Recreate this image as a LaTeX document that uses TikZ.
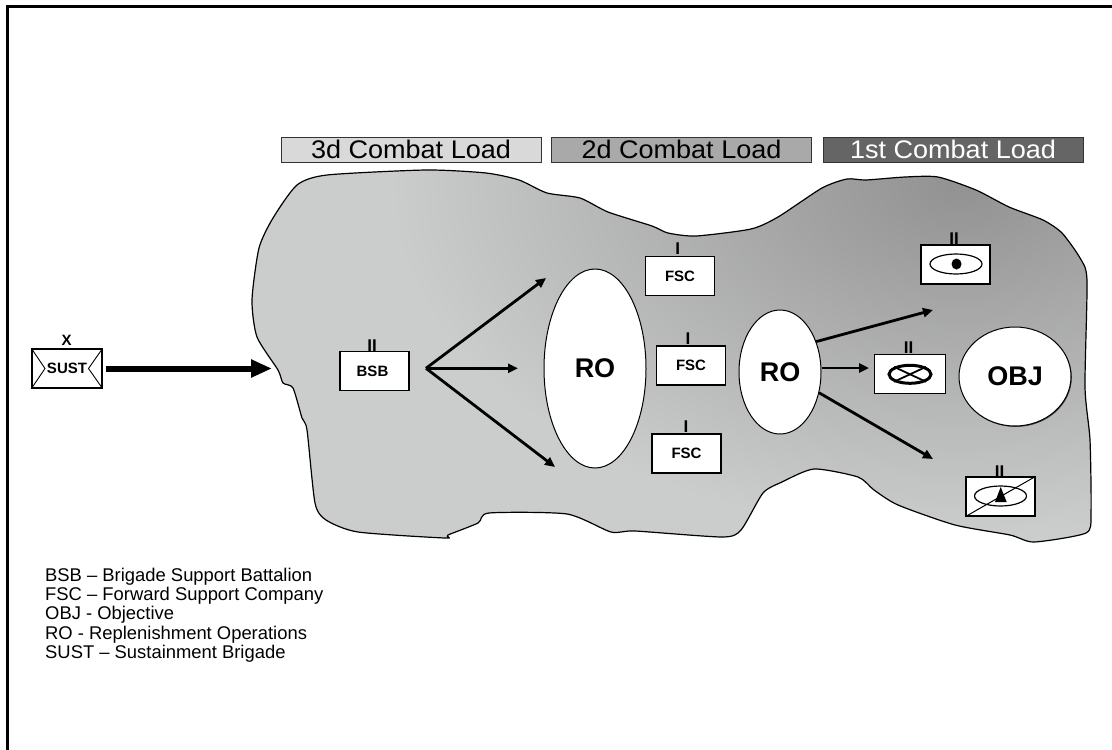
\documentclass[tikz,border=0pt]{standalone}
\usepackage{fontspec}
\usepackage{graphicx}
\setmainfont{Liberation Sans}
\usetikzlibrary{arrows.meta,shapes.geometric}
\newcommand{\fs}[1]{\fontsize{#1}{#1}\selectfont}
\definecolor{blobdark}{HTML}{929292}
\definecolor{bloblight}{HTML}{CBCDCC}
\definecolor{barA}{HTML}{D9D9D9}
\definecolor{barB}{HTML}{A9A9A9}
\definecolor{barC}{HTML}{656565}
\tikzset{
  unitbox/.style={draw=black,line width=1.2pt,fill=white,minimum width=69pt,minimum height=39pt,inner sep=0pt,font=\fs{15}\bfseries},
  echelon/.style={inner sep=0pt,font=\fs{17}\bfseries},
  objective/.style={ellipse,draw=black,line width=1pt,fill=white,inner sep=0pt,font=\fs{27}\bfseries},
  symb/.style={ellipse,draw=black,line width=1.2pt,minimum width=52pt,minimum height=20pt,inner sep=0pt},
  loadbar/.style={draw=black!80,line width=1pt,minimum width=260pt,minimum height=25pt,inner sep=0pt,font=\fs{26}},
  fan/.style={line width=2.8pt,-{Triangle[length=10pt,width=9pt]}},
  legend/.style={anchor=base west,inner sep=0pt,font=\fs{18.4}},
}
\begin{document}
\begin{tikzpicture}[x=1pt,y=-1pt]
\useasboundingbox (0,0) rectangle (1112,750);
\fill[black] (6,5) rectangle (1112,8);
\fill[black] (6,5) rectangle (9.3,750);

\def\blobpath{plot[smooth cycle,tension=0.4] coordinates {
 (259,248)(273,218)(297,185)(327,175)(426,170)(486,173)(519,180)(547,193)(580,198)(608,212)(652,226)(668,233)(696,236)(751,229)(778,217)(822,188)(847,179)(866,180)(905,177)(938,177)(976,190)(1009,207)(1043,220)(1062,233)(1080,258)(1087,280)(1085,387)(1090,440)(1091,513)(1086,533)
 (1034,542)(1010,535)(955,525)(898,505)(874,490)(858,477)(814,469)(782,482)(763,493)(741,530)(722,537)(635,531)(611,532)(567,514)(489,513)(478,523)(448,535)(445,538)(358,532)(326,520)(315,503)(307,430)(302,418)(293,388)(283,383)(278,370)(257,337)(252,300)}}
\fill[bloblight] \blobpath;
\begin{scope}
\clip \blobpath;
\shade[inner color=blobdark,outer color=bloblight] (960,185) ellipse (570 and 350);
\end{scope}
\draw[black,line width=1.2pt] \blobpath;

\node[loadbar,fill=barA] (load3) at (411,149.5) {\scalebox{1.04}[0.98]{3d Combat Load}};
\node[loadbar,fill=barB] (load2) at (681.5,149.5) {\scalebox{1.04}[0.98]{2d Combat Load}};
\node[loadbar,fill=barC,text=white] (load1) at (953,149.5) {\scalebox{1.04}[0.98]{1st Combat Load}};

% SUST
\node[unitbox,minimum width=70pt] (sust) at (67,368.5) {SUST};
\draw[line width=0.9pt] (sust.north west) -- (45,368.5) -- (sust.south west);
\draw[line width=0.9pt] (sust.north east) -- (88.5,368.5) -- (sust.south east);
\node[echelon,font=\fs{15}\bfseries] (sustx) at (66.7,340.7) {X};
\coordinate (sustend) at (272,368.5);
\draw[line width=6pt,shorten <=3.7pt,-{Triangle[length=21pt,width=17pt]}] (sust.east) -- (sustend);

% BSB
\node[unitbox] (bsb) at (374.5,371) {\hspace{-4pt}BSB};
\node[echelon] (bsbe) at (372,345.5) {II};
\coordinate (fanA) at (426,368.3);
\coordinate (tipA1) at (546,278);
\coordinate (tipA2) at (518,368.3);
\coordinate (tipA3) at (555,467);
\draw[fan] (fanA) -- (tipA1);
\draw[fan] (fanA) -- (tipA2);
\draw[fan] (fanA) -- (tipA3);

% RO
\node[objective,minimum width=102pt,minimum height=199pt] (ro1) at (595,368.5) {RO};
\node[objective,minimum width=82pt,minimum height=124pt] (ro2) at (780,372) {RO};

% FSC
\node[unitbox] (f1) at (680,276) {FSC};
\node[echelon] at (677.7,249) (f1e) {I};
\node[unitbox] (f2) at (691,365.5) {FSC};
\node[echelon] at (688,339) (f2e) {I};
\node[unitbox] (f3) at (686.5,453.5) {FSC};
\node[echelon] at (686,427) (f3e) {I};

% arrows from RO
\coordinate (tipB1) at (933,310);
\coordinate (tipB2) at (869,368);
\coordinate (tipB3) at (933,459);
\draw[fan] (ro2.40) -- (tipB1);
\draw[fan] (ro2.east |- tipB2) -- (tipB2);
\draw[fan] (ro2.-28) -- (tipB3);

% Eye unit
\node[unitbox] (u1) at (955.5,264.5) {};
\node[echelon] (u1e) at (954,239) {II};
\node[symb] (u1s) at (956,264) {};
\fill[black] (956.5,264) ellipse (5 and 5.5);

% Cross unit
\node[unitbox,minimum width=71pt] (u2) at (910,373.7) {};
\node[echelon] (u2e) at (908.5,347.5) {II};
\node[symb,line width=3pt,minimum width=42pt,minimum height=18pt] (u2s) at (910,374.3) {};
\draw[line width=1.8pt] (u2s.north west) -- (u2s.south east);
\draw[line width=1.8pt] (u2s.south west) -- (u2s.north east);

% Crossed-out unit
\node[unitbox] (u3) at (1000.5,496.5) {};
\node[echelon] (u3e) at (999.5,472) {II};
\draw[line width=1pt] (u3.south west) -- (u3.north east);
\node[symb] (u3s) at (1000.5,496) {};
\fill[black] (1000.7,487) -- (1006.7,502) -- (995,502) -- cycle;

% OBJ
\fill[black!75] (1015.8,377.4) ellipse (56 and 49.5);
\node[objective,minimum width=112pt,minimum height=99pt] (obj) at (1015,376.5) {OBJ};

% Legend
\node[legend] (l1) at (45,581) {BSB – Brigade Support Battalion};
\node[legend] (l2) at (45,600) {FSC – Forward Support Company};
\node[legend] (l3) at (45,619.5) {OBJ - Objective};
\node[legend] (l4) at (45,639) {RO - Replenishment Operations};
\node[legend] (l5) at (45,658.5) {SUST – Sustainment Brigade};
\end{tikzpicture}
\end{document}
